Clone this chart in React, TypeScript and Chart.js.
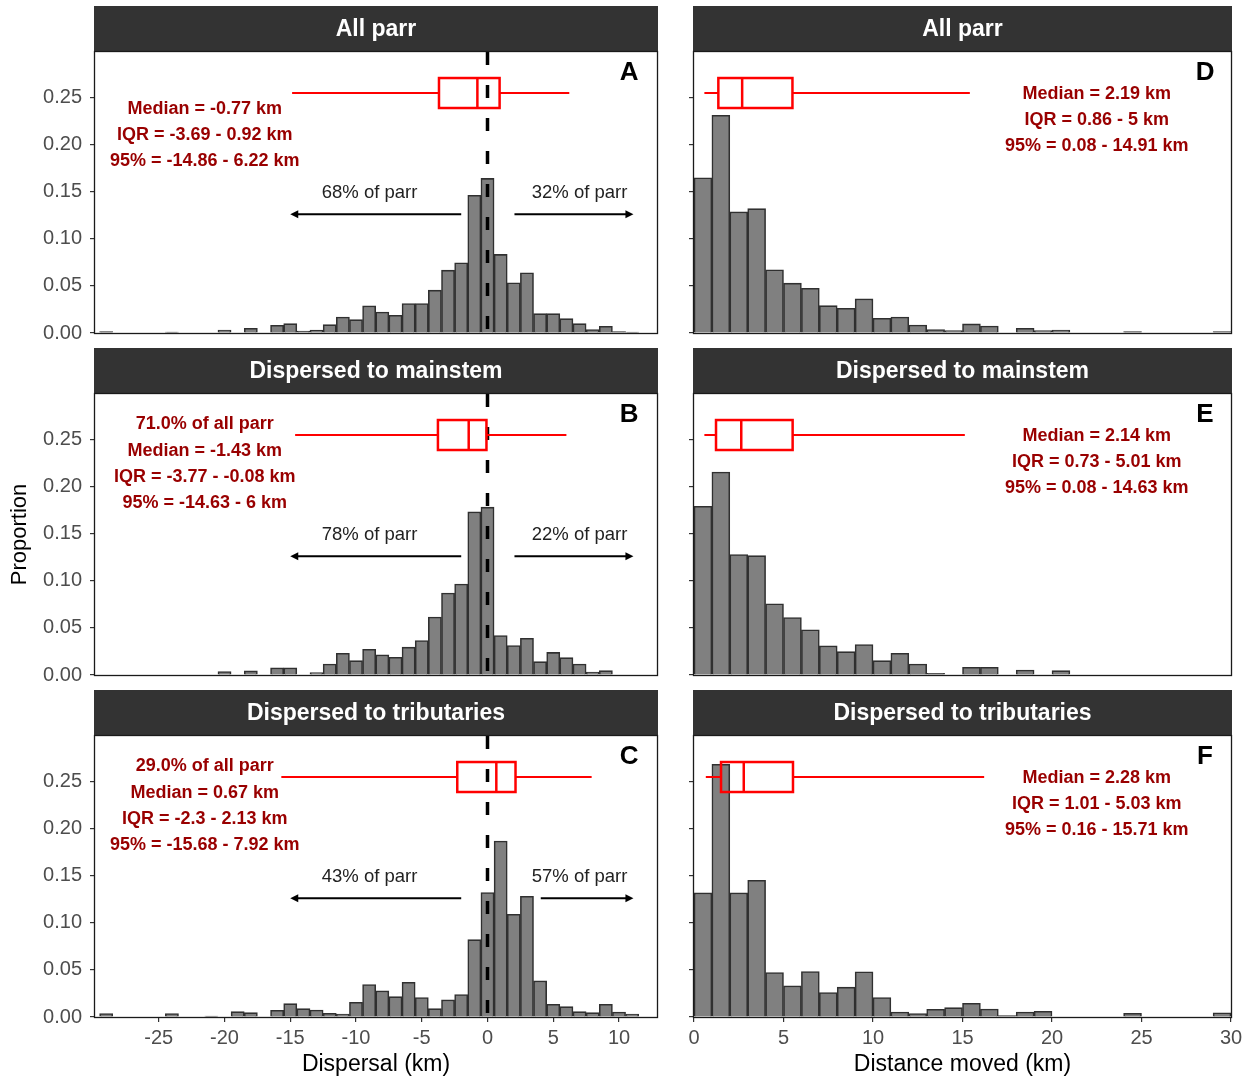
import React, { useEffect, useRef } from "react";
import { Chart, registerables } from "chart.js";

Chart.register(...registerables);

const FONT = '"Liberation Sans", Arial, Helvetica, sans-serif';
Chart.defaults.font.family = FONT;

// ---------------- data ----------------
const dispersalBins = [-29, -28, -27, -26, -25, -24, -23, -22, -21, -20, -19, -18, -17, -16, -15, -14, -13, -12, -11, -10, -9, -8, -7, -6, -5, -4, -3, -2, -1, 0, 1, 2, 3, 4, 5, 6, 7, 8, 9, 10, 11];
const allParrDispersal = [0.0014, 0, 0, 0, 0, 0.0011, 0, 0, 0, 0.0032, 0, 0.005, 0, 0.0082, 0.0099, 0.002, 0.003, 0.0088, 0.017, 0.0142, 0.0287, 0.0223, 0.0188, 0.0312, 0.0312, 0.0454, 0.0667, 0.0745, 0.146, 0.164, 0.0833, 0.0532, 0.0638, 0.0205, 0.0205, 0.0152, 0.0099, 0.0035, 0.0071, 0.0015, 0.001];
const mainstemDispersal = [0, 0, 0, 0, 0, 0, 0, 0, 0, 0.0035, 0, 0.0043, 0, 0.0075, 0.0075, 0, 0.0025, 0.0117, 0.023, 0.0152, 0.0273, 0.0213, 0.0188, 0.0295, 0.0365, 0.0614, 0.087, 0.0965, 0.173, 0.178, 0.0418, 0.0312, 0.039, 0.0142, 0.024, 0.0184, 0.0117, 0.0032, 0.0046, 0, 0];
const tributaryDispersal = [0.0035, 0, 0, 0, 0, 0.0035, 0, 0, 0.001, 0, 0.0057, 0.0046, 0, 0.0071, 0.0142, 0.0088, 0.0074, 0.0039, 0.0032, 0.0156, 0.0344, 0.0277, 0.0216, 0.0369, 0.0206, 0.0089, 0.0181, 0.0238, 0.082, 0.132, 0.1866, 0.109, 0.128, 0.0383, 0.0135, 0.011, 0.0057, 0.0046, 0.0135, 0.0053, 0.0032];

const distanceBins = [0.5, 1.5, 2.5, 3.5, 4.5, 5.5, 6.5, 7.5, 8.5, 9.5, 10.5, 11.5, 12.5, 13.5, 14.5, 15.5, 16.5, 17.5, 18.5, 19.5, 20.5, 21.5, 22.5, 23.5, 24.5, 25.5, 26.5, 27.5, 28.5, 29.5];
const allParrDistance = [0.1646, 0.2309, 0.1284, 0.1319, 0.067, 0.0529, 0.0475, 0.029, 0.0262, 0.0362, 0.0156, 0.017, 0.0085, 0.0035, 0.0025, 0.0096, 0.0074, 0, 0.005, 0.0025, 0.0032, 0, 0, 0, 0.0015, 0, 0, 0, 0, 0.0015];
const mainstemDistance = [0.179, 0.2153, 0.1277, 0.1266, 0.0755, 0.061, 0.0479, 0.0309, 0.0248, 0.0323, 0.0152, 0.0231, 0.0117, 0.0018, 0, 0.0082, 0.0082, 0, 0.0053, 0, 0.0046, 0, 0, 0, 0, 0, 0, 0, 0, 0];
const tributaryDistance = [0.1316, 0.268, 0.1316, 0.145, 0.0472, 0.033, 0.0482, 0.0259, 0.0316, 0.0479, 0.0206, 0.0053, 0.0035, 0.0082, 0.0099, 0.0145, 0.0085, 0.0014, 0.0053, 0.006, 0, 0, 0, 0, 0.004, 0, 0, 0, 0, 0.0045];

const dispersalTicks = [-25, -20, -15, -10, -5, 0, 5, 10];
const distanceTicks = [0, 5, 10, 15, 20, 25, 30];
const proportionTicks = [0, 0.05, 0.1, 0.15, 0.2, 0.25];

const stripTitles = ["All parr", "Dispersed to mainstem", "Dispersed to tributaries"];
const dispersalLetters = ["A", "B", "C"];
const distanceLetters = ["D", "E", "F"];

// boxplot stats: [2.5%, 25%, median, 75%, 97.5%]
const allParrDispersalBox = [-14.86, -3.69, -0.77, 0.92, 6.22];
const mainstemDispersalBox = [-14.63, -3.77, -1.43, -0.08, 6];
const tributaryDispersalBox = [-15.68, -2.3, 0.67, 2.13, 7.92];
const allParrDistanceBox = [0.08, 0.86, 2.19, 5, 14.91];
const mainstemDistanceBox = [0.08, 0.73, 2.14, 5.01, 14.63];
const tributaryDistanceBox = [0.16, 1.01, 2.28, 5.03, 15.71];
const distanceBoxShift = 0.5;

const allParrDispersalText = ["Median = -0.77 km", "IQR = -3.69 - 0.92 km", "95% = -14.86 - 6.22 km"];
const mainstemDispersalText = ["71.0% of all parr", "Median = -1.43 km", "IQR = -3.77 - -0.08 km", "95% = -14.63 - 6 km"];
const tributaryDispersalText = ["29.0% of all parr", "Median = 0.67 km", "IQR = -2.3 - 2.13 km", "95% = -15.68 - 7.92 km"];
const allParrDistanceText = ["Median = 2.19 km", "IQR = 0.86 - 5 km", "95% = 0.08 - 14.91 km"];
const mainstemDistanceText = ["Median = 2.14 km", "IQR = 0.73 - 5.01 km", "95% = 0.08 - 14.63 km"];
const tributaryDistanceText = ["Median = 2.28 km", "IQR = 1.01 - 5.03 km", "95% = 0.16 - 15.71 km"];

const upstreamShare = ["68% of parr", "78% of parr", "43% of parr"];
const downstreamShare = ["32% of parr", "22% of parr", "57% of parr"];
const upstreamArrow = [[-2, -15], [-2, -15], [-2, -15]];
const downstreamArrow = [[2.05, 11.1], [2.05, 11.1], [4.05, 11.1]];

// ---------------- layout ----------------
const PLOT_LEFT = [95, 694];
const PLOT_RIGHT = [657, 1231];
const PLOT_TOP = [52, 394, 736];
const PLOT_BOTTOM = [333, 675, 1017];
const CANVAS_LEFT = [0, 676];
const CANVAS_RIGHT = [676, 1252];
const X_RANGE = [[-29.85, 12.89], [0, 30]];
const Y_MAX = 0.298;

const DISP_TEXT_X = -21.5;
const DISP_TEXT_Y = [0.266, 0.238, 0.21, 0.182];
const DIST_TEXT_X = 22.5;
const DIST_TEXT_Y = [0.253, 0.2255, 0.198];
const LETTER_X = [10.77, 28.55];
const LETTER_Y = 0.2755;
const BOX_Y = 0.2545;
const BOX_HALF = 0.0159;
const SHARE_X = [-8.97, 7.0];
const SHARE_Y = 0.1483;
const ARROW_Y = 0.126;

type PanelCfg = {
  row: number;
  col: number;
  bins: number[];
  values: number[];
  title: string;
  letter: string;
  box: number[];
  boxShift: number;
  text: string[];
  share?: string[];
  arrows?: number[][];
};

const panels: PanelCfg[] = [
  { row: 0, col: 0, bins: dispersalBins, values: allParrDispersal, title: stripTitles[0], letter: dispersalLetters[0], box: allParrDispersalBox, boxShift: 0, text: allParrDispersalText, share: [upstreamShare[0], downstreamShare[0]], arrows: [upstreamArrow[0], downstreamArrow[0]] },
  { row: 1, col: 0, bins: dispersalBins, values: mainstemDispersal, title: stripTitles[1], letter: dispersalLetters[1], box: mainstemDispersalBox, boxShift: 0, text: mainstemDispersalText, share: [upstreamShare[1], downstreamShare[1]], arrows: [upstreamArrow[1], downstreamArrow[1]] },
  { row: 2, col: 0, bins: dispersalBins, values: tributaryDispersal, title: stripTitles[2], letter: dispersalLetters[2], box: tributaryDispersalBox, boxShift: 0, text: tributaryDispersalText, share: [upstreamShare[2], downstreamShare[2]], arrows: [upstreamArrow[2], downstreamArrow[2]] },
  { row: 0, col: 1, bins: distanceBins, values: allParrDistance, title: stripTitles[0], letter: distanceLetters[0], box: allParrDistanceBox, boxShift: distanceBoxShift, text: allParrDistanceText },
  { row: 1, col: 1, bins: distanceBins, values: mainstemDistance, title: stripTitles[1], letter: distanceLetters[1], box: mainstemDistanceBox, boxShift: distanceBoxShift, text: mainstemDistanceText },
  { row: 2, col: 1, bins: distanceBins, values: tributaryDistance, title: stripTitles[2], letter: distanceLetters[2], box: tributaryDistanceBox, boxShift: distanceBoxShift, text: tributaryDistanceText },
];

function canvasRect(p: PanelCfg) {
  const left = CANVAS_LEFT[p.col];
  const right = CANVAS_RIGHT[p.col];
  const top = PLOT_TOP[p.row] - 52;
  const bottom = p.row === 2 ? 1078 : PLOT_BOTTOM[p.row] + 17;
  return { left, top, width: right - left, height: bottom - top };
}

function makeDecor(p: PanelCfg) {
  return {
    id: "decor" + p.letter,
    afterDatasetsDraw(chart: any) {
      const { ctx, chartArea, scales } = chart;
      const { left, top, right, bottom } = chartArea;
      const X = (v: number) => scales.x.getPixelForValue(v);
      const Y = (v: number) => scales.y.getPixelForValue(v);
      ctx.save();

      // strip
      ctx.fillStyle = "#333333";
      ctx.fillRect(left - 1, top - 46, right - left + 2, 46);
      ctx.fillStyle = "#ffffff";
      ctx.font = `bold 23px ${FONT}`;
      ctx.textAlign = "center";
      ctx.textBaseline = "middle";
      ctx.fillText(p.title, (left + right) / 2, top - 22);

      if (p.col === 0) {
        // zero line
        const x0 = X(0);
        ctx.strokeStyle = "#000000";
        ctx.lineWidth = 3.5;
        ctx.setLineDash([13, 20]);
        ctx.beginPath();
        ctx.moveTo(x0, top);
        ctx.lineTo(x0, bottom);
        ctx.stroke();
        ctx.setLineDash([]);

        // arrows
        const ay = Y(ARROW_Y);
        ctx.lineWidth = 2;
        ctx.fillStyle = "#000000";
        (p.arrows || []).forEach(([from, to]) => {
          const xa = X(from);
          const xb = X(to);
          const dir = Math.sign(xb - xa);
          ctx.beginPath();
          ctx.moveTo(xa, ay);
          ctx.lineTo(xb - dir * 4, ay);
          ctx.stroke();
          ctx.beginPath();
          ctx.moveTo(xb, ay);
          ctx.lineTo(xb - dir * 8, ay - 4);
          ctx.lineTo(xb - dir * 8, ay + 4);
          ctx.closePath();
          ctx.fill();
        });
        ctx.fillStyle = "#222222";
        ctx.font = `18.5px ${FONT}`;
        (p.share || []).forEach((s, i) => {
          ctx.fillText(s, X(SHARE_X[i]), Y(SHARE_Y));
        });
      }

      // boxplot
      const [lo, q1, med, q3, hi] = p.box.map((v) => v + p.boxShift);
      const yc = Y(BOX_Y);
      const yt = Y(BOX_Y + BOX_HALF);
      const yb = Y(BOX_Y - BOX_HALF);
      ctx.strokeStyle = "#ff0000";
      ctx.lineWidth = 2;
      ctx.beginPath();
      ctx.moveTo(X(lo), yc);
      ctx.lineTo(X(q1), yc);
      ctx.moveTo(X(q3), yc);
      ctx.lineTo(X(hi), yc);
      ctx.stroke();
      ctx.lineWidth = 2.5;
      ctx.strokeRect(X(q1), yt, X(q3) - X(q1), yb - yt);
      ctx.beginPath();
      ctx.moveTo(X(med), yt);
      ctx.lineTo(X(med), yb);
      ctx.stroke();

      // summary text
      ctx.fillStyle = "#990000";
      ctx.font = `bold 18px ${FONT}`;
      if (p.col === 0) {
        const ys = DISP_TEXT_Y.slice(DISP_TEXT_Y.length - p.text.length);
        p.text.forEach((t, i) => ctx.fillText(t, X(DISP_TEXT_X), Y(ys[i])));
      } else {
        p.text.forEach((t, i) => ctx.fillText(t, X(DIST_TEXT_X), Y(DIST_TEXT_Y[i])));
      }

      // panel letter
      ctx.fillStyle = "#000000";
      ctx.font = `bold 26px ${FONT}`;
      ctx.fillText(p.letter, X(LETTER_X[p.col]), Y(LETTER_Y));

      // panel border
      ctx.strokeStyle = "#1a1a1a";
      ctx.lineWidth = 1.3;
      ctx.strokeRect(left - 0.5, top - 0.5, right - left + 1, bottom - top + 1);

      ctx.restore();
    },
  };
}

function buildConfig(p: PanelCfg): any {
  const rect = canvasRect(p);
  const isBottom = p.row === 2;
  const yWidth = PLOT_LEFT[p.col] - CANVAS_LEFT[p.col];
  const padRight = CANVAS_RIGHT[p.col] - PLOT_RIGHT[p.col];
  const xHeight = isBottom ? 61 : 0;
  const padBottom = rect.top + rect.height - PLOT_BOTTOM[p.row] - xHeight;
  const ticksX = p.col === 0 ? dispersalTicks : distanceTicks;
  return {
    type: "bar",
    data: {
      datasets: [
        {
          data: p.bins.map((b, i) => ({ x: b, y: p.values[i] })),
          backgroundColor: "#808080",
          borderColor: "#303030",
          borderWidth: 1.6,
          barPercentage: 1,
          categoryPercentage: 1,
          grouped: false,
        },
      ],
    },
    options: {
      responsive: false,
      animation: false,
      events: [],
      layout: { padding: { top: 52, left: 0, right: padRight, bottom: padBottom } },
      plugins: { legend: { display: false }, tooltip: { enabled: false } },
      scales: {
        x: {
          type: "linear",
          min: X_RANGE[p.col][0],
          max: X_RANGE[p.col][1],
          offset: false,
          display: isBottom,
          afterBuildTicks: (s: any) => {
            s.ticks = ticksX.map((v) => ({ value: v }));
          },
          afterFit: (s: any) => {
            s.height = xHeight;
            s.paddingLeft = 0;
            s.paddingRight = 0;
            s.paddingTop = 0;
            s.paddingBottom = 0;
          },
          ticks: {
            autoSkip: false,
            maxRotation: 0,
            minRotation: 0,
            padding: 4,
            color: "#4d4d4d",
            font: { size: 20, family: FONT },
            callback: (v: any) => String(v),
          },
          grid: { display: true, offset: false, drawOnChartArea: false, drawTicks: true, tickLength: 5, color: "#333333", lineWidth: 1.2 },
          border: { display: false },
          title: {
            display: true,
            text: p.col === 0 ? "Dispersal (km)" : "Distance moved (km)",
            color: "#000000",
            font: { size: 23, family: FONT },
            padding: { top: 0, bottom: 0 },
          },
        },
        y: {
          min: 0,
          max: Y_MAX,
          afterBuildTicks: (s: any) => {
            s.ticks = proportionTicks.map((v) => ({ value: v }));
          },
          afterFit: (s: any) => {
            s.width = yWidth;
            s.paddingLeft = 0;
            s.paddingRight = 0;
            s.paddingTop = 0;
            s.paddingBottom = 0;
          },
          ticks: {
            display: p.col === 0,
            padding: 8,
            color: "#4d4d4d",
            font: { size: 20, family: FONT },
            callback: (v: any) => Number(v).toFixed(2),
          },
          grid: { display: true, drawOnChartArea: false, drawTicks: true, tickLength: 5, color: "#333333", lineWidth: 1.2 },
          border: { display: false },
          title: {
            display: p.col === 0 && p.row === 1,
            text: "Proportion",
            color: "#000000",
            font: { size: 22, family: FONT },
            padding: { top: 7, bottom: 0 },
          },
        },
      },
    },
    plugins: [makeDecor(p)],
  };
}

function Panel({ cfg }: { cfg: PanelCfg }) {
  const ref = useRef<HTMLCanvasElement>(null);
  const rect = canvasRect(cfg);
  useEffect(() => {
    if (!ref.current) return;
    const chart = new Chart(ref.current, buildConfig(cfg));
    return () => chart.destroy();
  }, [cfg]);
  return (
    <canvas
      ref={ref}
      width={rect.width}
      height={rect.height}
      style={{ position: "absolute", left: rect.left, top: rect.top, width: rect.width, height: rect.height, display: "block" }}
    />
  );
}

export default function App() {
  return (
    <div style={{ position: "absolute", left: 0, top: 0, width: 1252, height: 1078, background: "#ffffff", overflow: "hidden" }}>
      {panels.map((p) => (
        <Panel key={p.letter} cfg={p} />
      ))}
    </div>
  );
}
